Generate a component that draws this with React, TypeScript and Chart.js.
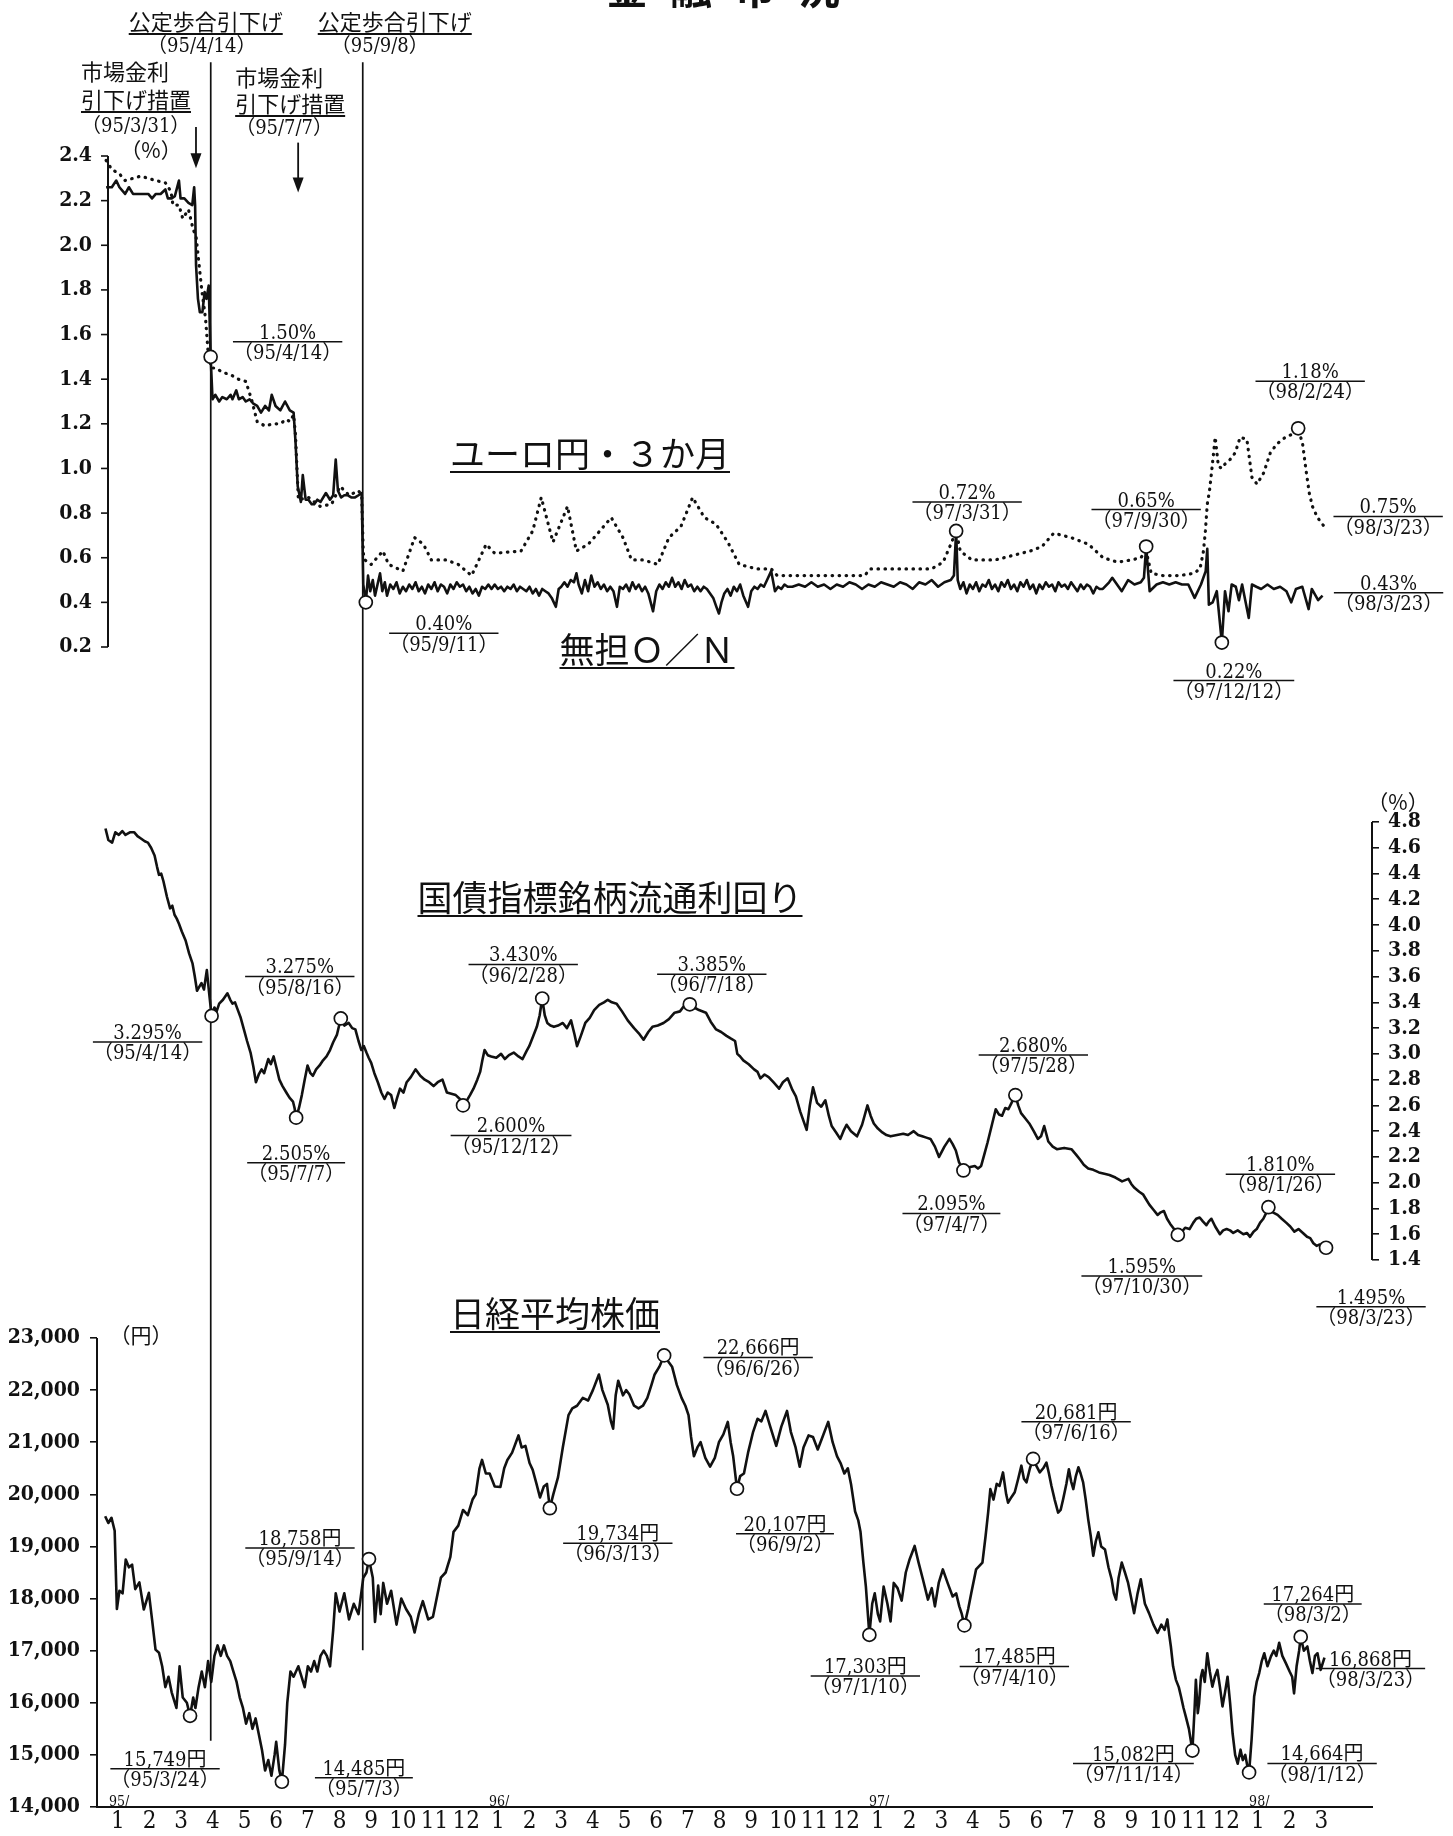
import { useEffect, useRef } from 'react';
import { Chart, registerables } from 'chart.js';

Chart.register(...registerables);

// ---------------- data (x = months since 1995/1/1) ----------------
const MONTH_LABELS = ['1','2','3','4','5','6','7','8','9','10','11','12','1','2','3','4','5','6','7','8','9','10','11','12','1','2','3','4','5','6','7','8','9','10','11','12','1','2','3'];
const YEAR_LABELS = ['95/', '96/', '97/', '98/'];
const YEAR_START_MONTHS = [0, 12, 24, 36];

const RATE_TICKS = [0.2, 0.4, 0.6, 0.8, 1.0, 1.2, 1.4, 1.6, 1.8, 2.0, 2.2, 2.4];
const JGB_TICKS = [1.4, 1.6, 1.8, 2.0, 2.2, 2.4, 2.6, 2.8, 3.0, 3.2, 3.4, 3.6, 3.8, 4.0, 4.2, 4.4, 4.6, 4.8];
const NIKKEI_TICKS = [14000, 15000, 16000, 17000, 18000, 19000, 20000, 21000, 22000, 23000];

// 無担O/N (solid)
const onSeries = [
[0.13,2.26],[0.31,2.26],[0.45,2.29],[0.55,2.26],[0.73,2.23],[0.85,2.26],[0.98,2.23],[1.2,2.23],[1.46,2.23],[1.58,2.21],[1.7,2.23],[1.85,2.23],[2.0,2.25],[2.08,2.21],[2.2,2.21],[2.3,2.22],[2.43,2.29],[2.48,2.21],[2.6,2.21],[2.73,2.19],[2.85,2.18],[2.91,2.26],[2.94,2.18],[2.97,1.91],[3.03,1.76],[3.09,1.7],[3.17,1.7],[3.24,1.79],[3.3,1.76],[3.37,1.82],[3.43,1.5],[3.49,1.31],[3.58,1.33],[3.7,1.3],[3.8,1.32],[3.94,1.31],[4.06,1.33],[4.12,1.31],[4.24,1.35],[4.32,1.31],[4.44,1.32],[4.54,1.3],[4.66,1.31],[4.78,1.29],[4.9,1.28],[5.02,1.25],[5.15,1.28],[5.27,1.26],[5.36,1.33],[5.48,1.28],[5.63,1.26],[5.78,1.3],[5.93,1.26],[6.05,1.25],[6.11,1.12],[6.18,0.92],
[6.28,0.85],[6.34,0.97],[6.43,0.86],[6.52,0.86],[6.62,0.84],[6.7,0.84],[6.8,0.86],[6.9,0.85],[7.07,0.89],[7.2,0.86],[7.3,0.88],[7.38,1.04],[7.45,0.9],[7.55,0.87],[7.65,0.88],[7.75,0.88],[7.87,0.87],[7.99,0.87],[8.1,0.88],[8.2,0.89],[8.25,0.48],[8.33,0.4],[8.4,0.52],[8.47,0.45],[8.55,0.5],[8.62,0.43],[8.7,0.48],[8.78,0.53],[8.85,0.45],[8.93,0.49],[9.0,0.43],[9.1,0.48],[9.2,0.46],[9.3,0.49],[9.4,0.44],[9.5,0.47],[9.6,0.45],[9.7,0.48],[9.8,0.46],[9.9,0.49],[10.0,0.45],[10.1,0.47],[10.2,0.44],[10.3,0.48],[10.4,0.46],[10.5,0.49],[10.6,0.45],[10.7,0.48],[10.8,0.47],[10.9,0.44],[11.0,0.48],[11.1,0.46],[11.2,0.49],[11.3,0.47],[11.4,0.48],[11.5,0.45],[11.6,0.47],[11.7,0.44],[11.8,0.46],[11.9,0.43],[12.0,0.47],[12.1,0.46],[12.2,0.48],[12.3,0.46],[12.4,0.48],[12.5,0.46],[12.6,0.47],[12.7,0.45],[12.8,0.47],[12.9,0.46],[13.0,0.48],[13.1,0.45],[13.2,0.47],[13.3,0.46],[13.4,0.45],[13.5,0.47],[13.6,0.44],[13.7,0.46],[13.8,0.43],[13.9,0.46],[14.0,0.45],[14.1,0.44],[14.2,0.42],[14.33,0.38],[14.42,0.46],[14.5,0.47],[14.6,0.49],[14.7,0.47],[14.8,0.5],[14.9,0.49],[14.98,0.53],[15.05,0.48],[15.15,0.44],[15.25,0.5],[15.35,0.45],[15.45,0.52],[15.55,0.47],[15.65,0.49],[15.75,0.46],[15.85,0.48],[15.95,0.45],[16.05,0.47],[16.15,0.45],[16.26,0.38],[16.35,0.47],[16.45,0.46],[16.55,0.48],[16.65,0.45],[16.75,0.49],[16.85,0.46],[16.95,0.48],[17.05,0.45],[17.15,0.47],[17.25,0.44],[17.4,0.36],[17.5,0.45],[17.6,0.48],[17.7,0.46],[17.8,0.49],[17.9,0.47],[18.0,0.51],[18.1,0.47],[18.2,0.49],[18.3,0.46],[18.4,0.5],[18.5,0.47],[18.6,0.48],[18.7,0.45],[18.8,0.47],[18.9,0.45],[19.0,0.47],[19.1,0.46],[19.2,0.44],[19.3,0.42],[19.4,0.38],[19.48,0.35],[19.56,0.4],[19.65,0.44],[19.75,0.46],[19.85,0.43],[19.95,0.47],[20.05,0.45],[20.15,0.48],[20.25,0.43],[20.4,0.38],[20.5,0.45],[20.6,0.47],[20.7,0.46],[20.8,0.48],[20.9,0.47],[21.0,0.5],[21.13,0.54],[21.25,0.45],[21.35,0.47],[21.45,0.46],[21.55,0.48],[21.65,0.47],[21.8,0.47],[22.0,0.48],[22.2,0.47],[22.4,0.49],[22.6,0.47],[22.8,0.48],[23.0,0.46],[23.2,0.48],[23.4,0.47],[23.6,0.49],[23.8,0.48],[24.0,0.46],[24.2,0.48],[24.4,0.47],[24.6,0.49],[24.8,0.48],[25.0,0.47],[25.2,0.49],[25.4,0.48],[25.6,0.46],[25.8,0.49],[26.0,0.48],[26.2,0.5],[26.4,0.47],[26.6,0.49],[26.8,0.5],[26.9,0.52],[26.97,0.72],[27.02,0.5],[27.1,0.46],[27.2,0.49],[27.3,0.44],[27.4,0.48],[27.5,0.46],[27.6,0.49],[27.7,0.45],[27.8,0.48],[27.9,0.47],[28.0,0.5],[28.1,0.46],[28.2,0.48],[28.3,0.45],[28.4,0.49],[28.5,0.47],[28.6,0.5],[28.7,0.46],[28.8,0.48],[28.9,0.45],[29.0,0.49],[29.1,0.47],[29.2,0.5],[29.3,0.46],[29.4,0.48],[29.5,0.44],[29.6,0.48],[29.7,0.46],[29.8,0.49],[29.9,0.47],[30.0,0.48],[30.1,0.45],[30.2,0.49],[30.3,0.47],[30.4,0.48],[30.5,0.46],[30.6,0.49],[30.7,0.47],[30.8,0.45],[30.9,0.48],[31.0,0.46],[31.1,0.48],[31.2,0.47],[31.3,0.44],[31.4,0.47],[31.5,0.46],[31.6,0.46],[31.8,0.49],[31.9,0.51],[32.05,0.48],[32.2,0.45],[32.4,0.5],[32.6,0.48],[32.8,0.49],[32.9,0.51],[32.97,0.65],[33.08,0.45],[33.3,0.48],[33.5,0.49],[33.7,0.48],[33.9,0.49],[34.1,0.48],[34.3,0.48],[34.5,0.42],[34.7,0.48],[34.85,0.54],[34.9,0.64],[34.95,0.39],[35.07,0.4],[35.2,0.45],[35.36,0.22],[35.46,0.45],[35.57,0.36],[35.67,0.48],[35.8,0.47],[35.9,0.41],[36.0,0.48],[36.21,0.33],[36.31,0.48],[36.45,0.47],[36.6,0.46],[36.8,0.48],[37.0,0.46],[37.2,0.47],[37.4,0.45],[37.55,0.4],[37.7,0.46],[37.9,0.47],[38.1,0.37],[38.2,0.46],[38.4,0.41],[38.54,0.43]
];

// ユーロ円・3か月 (dotted)
const euroyenSeries = [
[0.13,2.38],[0.31,2.34],[0.55,2.32],[0.73,2.29],[0.98,2.3],[1.22,2.31],[1.46,2.3],[1.7,2.29],[2.0,2.28],[2.18,2.24],[2.24,2.18],[2.43,2.18],[2.55,2.12],[2.73,2.16],[2.88,2.07],[2.97,2.04],[3.15,1.8],[3.27,1.67],[3.35,1.52],[3.45,1.45],[3.58,1.45],[3.82,1.43],[4.06,1.42],[4.3,1.4],[4.54,1.39],[4.72,1.31],[4.9,1.21],[5.15,1.19],[5.39,1.2],[5.63,1.2],[5.82,1.22],[5.93,1.21],[6.05,1.24],[6.11,1.15],[6.2,0.86],[6.52,0.87],[6.89,0.83],[7.25,0.84],[7.52,0.92],[7.8,0.88],[8.1,0.9],[8.2,0.88],[8.25,0.62],[8.3,0.59],[8.5,0.57],[8.87,0.63],[9.05,0.57],[9.5,0.54],[9.87,0.69],[10.15,0.66],[10.4,0.59],[10.87,0.59],[11.25,0.57],[11.67,0.52],[12.13,0.66],[12.4,0.62],[13.23,0.63],[13.6,0.72],[13.87,0.87],[14.24,0.67],[14.7,0.83],[14.98,0.63],[15.35,0.66],[15.72,0.72],[16.08,0.78],[16.45,0.69],[16.72,0.59],[17.1,0.59],[17.55,0.57],[17.9,0.69],[18.28,0.74],[18.65,0.87],[19.02,0.78],[19.39,0.75],[19.76,0.67],[20.12,0.57],[20.67,0.55],[21.13,0.55],[21.32,0.52],[22.7,0.52],[24.08,0.52],[24.26,0.55],[26.19,0.55],[26.56,0.58],[26.83,0.67],[26.97,0.72],[27.1,0.63],[27.47,0.59],[28.2,0.59],[28.75,0.61],[29.31,0.63],[29.68,0.65],[30.05,0.71],[30.6,0.69],[31.15,0.66],[31.61,0.6],[32.07,0.58],[32.5,0.59],[32.8,0.6],[32.97,0.63],[33.13,0.53],[33.5,0.52],[34.04,0.52],[34.47,0.53],[34.67,0.55],[34.78,0.63],[34.84,0.72],[34.9,0.84],[34.97,0.9],[35.04,0.99],[35.15,1.14],[35.25,1.01],[35.36,1.0],[35.46,1.02],[35.62,1.04],[35.78,1.07],[35.94,1.14],[36.15,1.13],[36.31,0.96],[36.47,0.93],[36.68,0.98],[36.89,1.07],[37.1,1.11],[37.37,1.14],[37.69,1.16],[37.77,1.18],[37.91,1.11],[38.01,1.0],[38.12,0.89],[38.22,0.83],[38.38,0.78],[38.59,0.74]
];

// 国債指標銘柄流通利回り
const jgbSeries = [
[0.11,4.75],[0.2,4.66],[0.32,4.64],[0.42,4.72],[0.53,4.7],[0.64,4.73],[0.74,4.7],[0.88,4.72],[1.02,4.72],[1.12,4.69],[1.24,4.67],[1.35,4.65],[1.45,4.64],[1.55,4.6],[1.66,4.54],[1.74,4.45],[1.8,4.39],[1.87,4.4],[1.94,4.34],[2.05,4.22],[2.15,4.13],[2.22,4.15],[2.29,4.08],[2.36,4.05],[2.43,4.01],[2.52,3.95],[2.64,3.88],[2.75,3.78],[2.86,3.7],[2.93,3.6],[3.0,3.49],[3.07,3.52],[3.14,3.55],[3.22,3.5],[3.31,3.65],[3.38,3.48],[3.46,3.295],[3.55,3.36],[3.62,3.33],[3.7,3.39],[3.82,3.42],[3.96,3.47],[4.05,3.42],[4.12,3.39],[4.2,3.4],[4.29,3.34],[4.38,3.28],[4.48,3.19],[4.58,3.1],[4.69,3.01],[4.78,2.9],[4.86,2.78],[4.95,2.84],[5.04,2.88],[5.12,2.85],[5.25,2.96],[5.33,2.92],[5.42,2.98],[5.5,2.9],[5.6,2.8],[5.7,2.75],[5.82,2.7],[5.92,2.66],[6.03,2.63],[6.08,2.58],[6.13,2.505],[6.22,2.58],[6.31,2.68],[6.4,2.8],[6.49,2.91],[6.58,2.85],[6.66,2.83],[6.76,2.88],[6.87,2.91],[6.98,2.95],[7.09,2.98],[7.2,3.03],[7.3,3.09],[7.42,3.15],[7.54,3.275],[7.65,3.22],[7.79,3.24],[7.9,3.2],[8.0,3.19],[8.1,3.1],[8.19,3.03],[8.27,3.06],[8.35,3.01],[8.42,2.97],[8.5,2.93],[8.6,2.85],[8.71,2.78],[8.82,2.7],[8.92,2.65],[9.02,2.7],[9.13,2.68],[9.23,2.58],[9.32,2.66],[9.41,2.73],[9.52,2.7],[9.62,2.78],[9.75,2.82],[9.9,2.88],[10.05,2.83],[10.19,2.8],[10.33,2.78],[10.47,2.75],[10.6,2.78],[10.75,2.8],[10.89,2.7],[11.03,2.69],[11.17,2.68],[11.3,2.65],[11.4,2.6],[11.5,2.63],[11.62,2.68],[11.73,2.73],[11.85,2.8],[11.94,2.86],[12.01,2.95],[12.08,3.03],[12.18,2.99],[12.29,2.98],[12.45,2.97],[12.6,3.0],[12.72,2.96],[12.85,2.99],[13.0,3.01],[13.15,2.98],[13.28,2.96],[13.4,3.02],[13.49,3.06],[13.62,3.14],[13.73,3.21],[13.82,3.3],[13.9,3.43],[13.98,3.3],[14.06,3.24],[14.16,3.22],[14.27,3.21],[14.4,3.22],[14.55,3.24],[14.68,3.2],[14.81,3.26],[14.92,3.15],[15.0,3.06],[15.12,3.14],[15.26,3.24],[15.4,3.28],[15.54,3.34],[15.7,3.38],[15.85,3.4],[15.97,3.42],[16.1,3.4],[16.25,3.39],[16.42,3.33],[16.6,3.26],[16.8,3.2],[16.95,3.16],[17.1,3.11],[17.25,3.17],[17.38,3.21],[17.55,3.22],[17.73,3.24],[17.9,3.27],[18.08,3.32],[18.25,3.33],[18.37,3.37],[18.47,3.36],[18.56,3.385],[18.7,3.36],[18.85,3.34],[19.07,3.32],[19.22,3.25],[19.39,3.19],[19.55,3.17],[19.72,3.14],[19.85,3.12],[19.99,3.1],[20.06,3.0],[20.15,2.98],[20.25,2.95],[20.42,2.92],[20.59,2.88],[20.7,2.86],[20.79,2.81],[20.92,2.84],[21.05,2.82],[21.2,2.78],[21.38,2.73],[21.5,2.78],[21.65,2.81],[21.8,2.72],[21.91,2.67],[22.05,2.55],[22.25,2.41],[22.35,2.6],[22.45,2.74],[22.58,2.62],[22.71,2.59],[22.84,2.64],[22.95,2.52],[23.04,2.44],[23.18,2.39],[23.31,2.34],[23.41,2.4],[23.51,2.45],[23.65,2.4],[23.84,2.36],[24.0,2.45],[24.17,2.6],[24.27,2.52],[24.37,2.46],[24.5,2.42],[24.64,2.39],[24.77,2.37],[24.9,2.36],[25.1,2.37],[25.3,2.38],[25.45,2.37],[25.63,2.4],[25.77,2.37],[25.9,2.36],[26.03,2.35],[26.16,2.34],[26.3,2.28],[26.43,2.2],[26.6,2.28],[26.76,2.34],[26.86,2.3],[26.96,2.25],[27.06,2.16],[27.2,2.095],[27.38,2.12],[27.56,2.13],[27.66,2.11],[27.76,2.13],[27.86,2.22],[27.96,2.31],[28.1,2.45],[28.22,2.57],[28.32,2.53],[28.42,2.52],[28.52,2.58],[28.62,2.57],[28.72,2.62],[28.84,2.68],[28.93,2.6],[29.02,2.54],[29.15,2.5],[29.28,2.46],[29.42,2.4],[29.55,2.34],[29.65,2.36],[29.75,2.44],[29.88,2.32],[30.02,2.28],[30.15,2.26],[30.38,2.27],[30.61,2.26],[30.75,2.22],[30.88,2.18],[31.0,2.14],[31.14,2.11],[31.3,2.1],[31.48,2.08],[31.65,2.07],[31.81,2.06],[32.0,2.04],[32.21,2.01],[32.41,2.03],[32.5,1.99],[32.6,1.96],[32.75,1.93],[32.87,1.91],[32.97,1.87],[33.07,1.83],[33.2,1.79],[33.33,1.75],[33.43,1.77],[33.53,1.78],[33.63,1.72],[33.73,1.68],[33.85,1.64],[33.97,1.595],[34.1,1.62],[34.2,1.65],[34.34,1.64],[34.46,1.69],[34.55,1.72],[34.66,1.73],[34.76,1.7],[34.87,1.67],[34.95,1.7],[35.03,1.72],[35.15,1.66],[35.3,1.6],[35.4,1.63],[35.51,1.64],[35.62,1.63],[35.72,1.61],[35.86,1.63],[36.04,1.6],[36.15,1.61],[36.25,1.58],[36.36,1.62],[36.46,1.64],[36.57,1.69],[36.67,1.72],[36.77,1.77],[36.83,1.81],[36.97,1.77],[37.12,1.75],[37.25,1.72],[37.39,1.69],[37.52,1.66],[37.65,1.62],[37.78,1.64],[37.92,1.61],[38.05,1.58],[38.15,1.57],[38.25,1.53],[38.35,1.51],[38.45,1.52],[38.55,1.5],[38.65,1.495]
];

// 日経平均株価
const nikkeiSeries = [
[0.1,19580],[0.2,19450],[0.3,19550],[0.4,19300],[0.47,17800],[0.55,18150],[0.65,18100],[0.75,18750],[0.85,18600],[0.95,18650],[1.05,18180],[1.18,18310],[1.32,17790],[1.48,18110],[1.58,17600],[1.69,17020],[1.8,16960],[1.9,16700],[2.0,16300],[2.1,16500],[2.2,16200],[2.35,15900],[2.45,16700],[2.55,16100],[2.68,16000],[2.78,15749],[2.88,16100],[2.95,15900],[3.05,16300],[3.15,16600],[3.25,16300],[3.35,16800],[3.45,16400],[3.55,16900],[3.65,17100],[3.75,16900],[3.85,17100],[3.95,16900],[4.05,16800],[4.15,16600],[4.25,16400],[4.35,16100],[4.45,15900],[4.55,15600],[4.65,15800],[4.75,15500],[4.85,15700],[4.95,15400],[5.05,15100],[5.15,14700],[5.25,14900],[5.35,14600],[5.45,15000],[5.5,15250],[5.6,14700],[5.68,14485],[5.78,15200],[5.85,16000],[5.95,16600],[6.05,16500],[6.2,16700],[6.3,16500],[6.4,16300],[6.5,16700],[6.6,16600],[6.7,16800],[6.8,16600],[6.9,16900],[7.0,17000],[7.1,16900],[7.2,16700],[7.3,17400],[7.38,18100],[7.5,17750],[7.65,18100],[7.8,17600],[7.95,17900],[8.1,17700],[8.25,18400],[8.35,18500],[8.43,18758],[8.55,18400],[8.62,17550],[8.72,18250],[8.8,17700],[8.88,18300],[9.0,17900],[9.13,18150],[9.3,17500],[9.45,18000],[9.6,17800],[9.75,17650],[9.87,17350],[10.0,17700],[10.13,17950],[10.3,17600],[10.45,17650],[10.6,18100],[10.7,18400],[10.85,18500],[11.0,18800],[11.1,19280],[11.25,19400],[11.4,19700],[11.55,19600],[11.7,19900],[11.8,20000],[11.92,20500],[12.0,20660],[12.12,20400],[12.24,20400],[12.4,20150],[12.58,20140],[12.7,20500],[12.8,20660],[12.95,20800],[13.15,21130],[13.25,20900],[13.37,20930],[13.5,20600],[13.6,20470],[13.72,20200],[13.83,19940],[13.95,20150],[14.05,20200],[14.14,19734],[14.25,20000],[14.4,20330],[14.55,20900],[14.73,21520],[14.85,21650],[15.0,21700],[15.18,21850],[15.35,21800],[15.5,22000],[15.69,22300],[15.8,22000],[15.97,21720],[16.07,21400],[16.14,21260],[16.22,21900],[16.3,22180],[16.45,21900],[16.55,22000],[16.65,21920],[16.8,21700],[16.94,21650],[17.08,21700],[17.22,21850],[17.35,22100],[17.45,22300],[17.6,22450],[17.75,22666],[17.88,22550],[18.0,22450],[18.15,22100],[18.3,21850],[18.42,21700],[18.52,21520],[18.6,21100],[18.69,20730],[18.8,20900],[18.9,21000],[19.05,20700],[19.2,20530],[19.35,20700],[19.48,21000],[19.62,21150],[19.76,21390],[19.85,21000],[19.93,20730],[20.05,20107],[20.15,20350],[20.27,20400],[20.4,20800],[20.56,21200],[20.7,21450],[20.82,21400],[20.95,21600],[21.1,21300],[21.29,20930],[21.45,21300],[21.63,21600],[21.75,21200],[21.9,20900],[22.03,20530],[22.15,20900],[22.31,21130],[22.45,21100],[22.6,20860],[22.75,21100],[22.93,21390],[23.07,21000],[23.21,20730],[23.32,20600],[23.44,20400],[23.55,20500],[23.65,20200],[23.78,19670],[23.88,19500],[23.95,19280],[24.04,18700],[24.12,18230],[24.23,17303],[24.32,17900],[24.4,18100],[24.5,17700],[24.57,17560],[24.68,18230],[24.8,17900],[24.9,17560],[25.0,18300],[25.12,18200],[25.25,17960],[25.38,18500],[25.5,18750],[25.66,19010],[25.78,18700],[25.92,18370],[26.08,17980],[26.2,18200],[26.3,17850],[26.42,18300],[26.55,18560],[26.7,18300],[26.86,18040],[26.97,18100],[27.07,17850],[27.15,17700],[27.23,17485],[27.35,17800],[27.45,18110],[27.6,18560],[27.8,18690],[27.9,19200],[27.98,19650],[28.05,20100],[28.15,19900],[28.25,20200],[28.34,20160],[28.45,20420],[28.55,20000],[28.61,19840],[28.72,19950],[28.82,20040],[28.93,20300],[29.03,20550],[29.11,20300],[29.19,20230],[29.3,20500],[29.4,20681],[29.5,20550],[29.61,20420],[29.72,20500],[29.82,20610],[29.9,20400],[29.98,20160],[30.08,19900],[30.19,19650],[30.27,19700],[30.35,19910],[30.45,20200],[30.53,20480],[30.6,20250],[30.67,20100],[30.75,20350],[30.83,20520],[30.9,20400],[30.98,20230],[31.06,19900],[31.14,19520],[31.22,19200],[31.3,18820],[31.38,19100],[31.46,19270],[31.55,19000],[31.67,18940],[31.78,18600],[31.88,18370],[31.95,18100],[32.02,17980],[32.1,18400],[32.2,18690],[32.3,18500],[32.4,18300],[32.5,18000],[32.59,17720],[32.7,18100],[32.8,18370],[32.93,17900],[33.06,17720],[33.2,17500],[33.33,17340],[33.45,17500],[33.55,17400],[33.64,17600],[33.7,17300],[33.75,17080],[33.82,16700],[33.91,16440],[34.0,16300],[34.07,16120],[34.15,15900],[34.22,15740],[34.32,15500],[34.43,15082],[34.5,15900],[34.54,16440],[34.6,15800],[34.64,15990],[34.7,16500],[34.75,16630],[34.82,16400],[34.9,16950],[34.98,16600],[35.06,16310],[35.14,16500],[35.22,16630],[35.3,16300],[35.38,15930],[35.46,16200],[35.54,16500],[35.62,16000],[35.7,15410],[35.78,15000],[35.86,14830],[35.95,15100],[36.02,14900],[36.1,15000],[36.16,14800],[36.22,14664],[36.3,15300],[36.38,16120],[36.46,16400],[36.54,16570],[36.62,16800],[36.7,16950],[36.8,16700],[36.91,16890],[37.0,17000],[37.08,16900],[37.17,17150],[37.27,16900],[37.38,16760],[37.5,16600],[37.58,16500],[37.64,16180],[37.72,16700],[37.8,17000],[37.85,17264],[37.95,17000],[38.06,17080],[38.14,16800],[38.22,16570],[38.3,16900],[38.38,16950],[38.48,16630],[38.6,16868]
];

// marked points (circles) with their captions
const rateNotePoints = [[3.43,1.5],[8.33,0.4],[26.97,0.72],[32.97,0.65],[35.36,0.22],[37.77,1.18]];
const rateNoteValues = ['1.50%','0.40%','0.72%','0.65%','0.22%','1.18%'];
const rateNoteDates = ['（95/4/14）','（95/9/11）','（97/3/31）','（97/9/30）','（97/12/12）','（98/2/24）'];
const rateEndValues = ['0.75%','0.43%'];
const rateEndDates = ['（98/3/23）','（98/3/23）'];

const jgbNotePoints = [[3.46,3.295],[7.54,3.275],[6.13,2.505],[11.4,2.6],[13.9,3.43],[18.56,3.385],[27.2,2.095],[28.84,2.68],[33.97,1.595],[36.83,1.81],[38.65,1.495]];
const jgbNoteValues = ['3.295%','3.275%','2.505%','2.600%','3.430%','3.385%','2.095%','2.680%','1.595%','1.810%','1.495%'];
const jgbNoteDates = ['（95/4/14）','（95/8/16）','（95/7/7）','（95/12/12）','（96/2/28）','（96/7/18）','（97/4/7）','（97/5/28）','（97/10/30）','（98/1/26）','（98/3/23）'];

const nikkeiNotePoints = [[2.78,15749],[5.68,14485],[8.43,18758],[14.14,19734],[17.75,22666],[20.05,20107],[24.23,17303],[27.23,17485],[29.4,20681],[34.43,15082],[36.22,14664],[37.85,17264]];
const nikkeiNoteValues = ['15,749円','14,485円','18,758円','19,734円','22,666円','20,107円','17,303円','17,485円','20,681円','15,082円','14,664円','17,264円'];
const nikkeiNoteDates = ['（95/3/24）','（95/7/3）','（95/9/14）','（96/3/13）','（96/6/26）','（96/9/2）','（97/1/10）','（97/4/10）','（97/6/16）','（97/11/14）','（98/1/12）','（98/3/2）'];
const nikkeiEndValue = '16,868円';
const nikkeiEndDate = '（98/3/23）';

// policy events
const EVENT_DATES = ['95/4/14', '95/9/8'];
const EVENT_TITLES = ['公定歩合引下げ', '公定歩合引下げ'];
const EVENT_DATE_TEXTS = ['（95/4/14）', '（95/9/8）'];
const MEASURE_DATES = ['95/3/31', '95/7/7'];
const MEASURE_TEXTS = [['市場金利', '引下げ措置', '（95/3/31）'], ['市場金利', '引下げ措置', '（95/7/7）']];

const TITLE_CHARS = ['金', '融', '市', '況'];
const PANEL_TITLES = ['ユーロ円・３か月', '無担Ｏ／Ｎ', '国債指標銘柄流通利回り', '日経平均株価'];

// ---------------- layout / style ----------------
const W = 1453, H = 1836;
const PLOT_TOP = 60, PLOT_BOTTOM = 1807, PLOT_LEFT = 97, PLOT_RIGHT = 1372;
const X0_PX = 102, MONTH_PX = 31.67;
const X_MIN = (PLOT_LEFT - X0_PX) / MONTH_PX;
const X_MAX = (PLOT_RIGHT - X0_PX) / MONTH_PX;
function span(vTop: number, pTop: number, vBot: number, pBot: number) {
  const k = (vTop - vBot) / (pBot - pTop);
  return { max: vTop + (pTop - PLOT_TOP) * k, min: vBot - (PLOT_BOTTOM - pBot) * k };
}
const RATE_RANGE = span(2.4, 156, 0.2, 647);
const JGB_RANGE = span(4.8, 822, 1.4, 1260);
const NK_RANGE = span(23000, 1338, 14000, 1807);
const RATE_AXIS_SHIFT = 11; // the short-rate axis sits a little right of the stock axis

const INK = '#111';
const NUM_FAMILY = '"DejaVu Serif Condensed", "Liberation Serif", "Noto Sans CJK JP", serif';
const JP_FAMILY = '"Noto Sans CJK JP", "Noto Sans", sans-serif';
const NOTE_FONT = `20px ${NUM_FAMILY}`;
const TICK_FONT = `bold 21px ${NUM_FAMILY}`;
const LINE_W = 2.6;

const RATE_NOTE_OFFSETS = [[77,-15],[78,31],[11,-29],[0,-37],[12,38],[12,-47]];
const RATE_END_OFFSETS = [[64,-10],[66,-3]];
const JGB_NOTE_OFFSETS = [[-64,26],[-41,-42],[0,45],[48,30],[-19,-34],[22,-30],[-12,43],[18,-40],[-36,41],[12,-33],[45,59]];
const NIKKEI_NOTE_OFFSETS = [[-25,53],[82,-4],[-69,-11],[68,35],[94,2],[48,45],[-4,41],[50,41],[43,-37],[-59,13],[73,-9],[12,-33]];
const NIKKEI_END_OFFSET = [46, 11];

const EVENT_LINE_TOP_RATE = 2.82;
const EVENT_LINE_BOTTOM_NIKKEI = [15270, 17010];
const EVENT_TITLE_DX = [-5, 32];
const EVENT_DATE_DX = [-9, 17];
const EVENT_TITLE_Y = 22, EVENT_DATE_Y = 47;
const MEASURE_TEXT_DX = [-115, -63];
const MEASURE_TEXT_Y = [[72, 100, 127], [78, 104, 129]];
const MEASURE_ARROW_RATE = [[2.53, 2.345], [2.46, 2.237]];
const TITLE_X = [627, 691, 755, 819];
const PANEL_TITLE_POS = [[590, 454], [647, 650], [610, 898], [555, 1314]];

function dateToMonth(s: string) {
  const [yy, mm, dd] = s.split('/').map(Number);
  const year = 1900 + yy;
  const dim = new Date(year, mm, 0).getDate();
  return (year - 1995) * 12 + (mm - 1) + (dd - 1) / dim;
}

function seg(ctx: any, x1: number, y1: number, x2: number, y2: number) {
  ctx.beginPath(); ctx.moveTo(x1, y1); ctx.lineTo(x2, y2); ctx.stroke();
}

function underlined(ctx: any, text: string, cx: number, cy: number, font: string, gap: number) {
  ctx.font = font;
  ctx.textAlign = 'center';
  ctx.textBaseline = 'middle';
  ctx.fillText(text, cx, cy);
  const w = ctx.measureText(text).width;
  ctx.lineWidth = 1.8;
  seg(ctx, cx - w / 2, cy + gap, cx + w / 2, cy + gap);
}

function noteLabel(ctx: any, x: number, y: number, value: string, date: string) {
  ctx.font = NOTE_FONT;
  const w = Math.max(ctx.measureText(value).width, ctx.measureText(date).width);
  ctx.textAlign = 'center';
  ctx.textBaseline = 'alphabetic';
  ctx.fillText(value, x, y - 3);
  ctx.textBaseline = 'top';
  ctx.fillText(date, x, y + 2);
  ctx.lineWidth = 1.5;
  seg(ctx, x - w / 2, y, x + w / 2, y);
}

const decorations = {
  id: 'decorations',
  beforeDatasetsDraw(chart: any) {
    const ctx = chart.ctx;
    const s = chart.scales;
    ctx.save();
    ctx.strokeStyle = INK;
    ctx.fillStyle = INK;
    // short-rate axis: spine, tick marks and labels
    const rx = s.yRate.right + RATE_AXIS_SHIFT;
    ctx.lineWidth = 2;
    seg(ctx, rx, s.yRate.getPixelForValue(RATE_TICKS[RATE_TICKS.length - 1]), rx, s.yRate.getPixelForValue(RATE_TICKS[0]));
    ctx.lineWidth = 1.6;
    ctx.font = TICK_FONT;
    ctx.textAlign = 'right';
    ctx.textBaseline = 'middle';
    RATE_TICKS.forEach((v) => {
      const y = s.yRate.getPixelForValue(v);
      seg(ctx, rx - 7, y, rx, y);
      ctx.fillText(v.toFixed(1), rx - 16, y);
    });
    // other spines limited to each panel's range
    ctx.lineWidth = 2;
    seg(ctx, s.yNk.right, s.yNk.getPixelForValue(NIKKEI_TICKS[NIKKEI_TICKS.length - 1]), s.yNk.right, s.yNk.getPixelForValue(NIKKEI_TICKS[0]));
    seg(ctx, s.yJgb.left, s.yJgb.getPixelForValue(JGB_TICKS[JGB_TICKS.length - 1]), s.yJgb.left, s.yJgb.getPixelForValue(JGB_TICKS[0]));
    // policy event lines
    ctx.lineWidth = 1.7;
    EVENT_DATES.forEach((d, i) => {
      const x = s.x.getPixelForValue(dateToMonth(d));
      seg(ctx, x, s.yRate.getPixelForValue(EVENT_LINE_TOP_RATE), x, s.yNk.getPixelForValue(EVENT_LINE_BOTTOM_NIKKEI[i]));
    });
    ctx.restore();
  },
  afterDatasetsDraw(chart: any) {
    const ctx = chart.ctx;
    const s = chart.scales;
    ctx.save();
    ctx.strokeStyle = INK;
    ctx.fillStyle = INK;

    // page title (cut off at the top edge)
    ctx.font = `bold 42px ${JP_FAMILY}`;
    ctx.textAlign = 'center';
    ctx.textBaseline = 'bottom';
    TITLE_CHARS.forEach((c, i) => ctx.fillText(c, TITLE_X[i], 9));

    // policy event captions
    EVENT_DATES.forEach((d, i) => {
      const x = s.x.getPixelForValue(dateToMonth(d));
      underlined(ctx, EVENT_TITLES[i], x + EVENT_TITLE_DX[i], EVENT_TITLE_Y, `22px ${JP_FAMILY}`, 12);
      ctx.font = `20px ${NUM_FAMILY}`;
      ctx.textAlign = 'center';
      ctx.textBaseline = 'middle';
      ctx.fillText(EVENT_DATE_TEXTS[i], x + EVENT_DATE_DX[i], EVENT_DATE_Y);
    });

    // market-rate measures with arrows
    MEASURE_DATES.forEach((d, i) => {
      const x = s.x.getPixelForValue(dateToMonth(d));
      const left = x + MEASURE_TEXT_DX[i];
      const [t1, t2, t3] = MEASURE_TEXTS[i];
      const [y1, y2, y3] = MEASURE_TEXT_Y[i];
      ctx.textAlign = 'left';
      ctx.textBaseline = 'middle';
      ctx.font = `22px ${JP_FAMILY}`;
      ctx.fillText(t1, left, y1);
      ctx.fillText(t2, left, y2);
      const w2 = ctx.measureText(t2).width;
      ctx.lineWidth = 1.8;
      seg(ctx, left, y2 + 12, left + w2, y2 + 12);
      ctx.font = `20px ${NUM_FAMILY}`;
      ctx.fillText(t3, left, y3);
      const ya = s.yRate.getPixelForValue(MEASURE_ARROW_RATE[i][0]);
      const yb = s.yRate.getPixelForValue(MEASURE_ARROW_RATE[i][1]);
      ctx.lineWidth = 1.8;
      seg(ctx, x, ya, x, yb - 12);
      ctx.beginPath();
      ctx.moveTo(x - 5.5, yb - 15);
      ctx.lineTo(x + 5.5, yb - 15);
      ctx.lineTo(x, yb);
      ctx.closePath();
      ctx.fill();
    });

    // unit labels
    ctx.font = `21px ${JP_FAMILY}`;
    ctx.textAlign = 'center';
    ctx.textBaseline = 'middle';
    ctx.fillText('（%）', s.yRate.right + 54, s.yRate.getPixelForValue(2.4) - 6);
    ctx.fillText('（%）', s.yJgb.left + 26, s.yJgb.getPixelForValue(4.8) - 20);
    ctx.fillText('（円）', s.yNk.right + 44, s.yNk.getPixelForValue(23000) - 3);

    // panel titles
    PANEL_TITLES.forEach((t, i) => {
      underlined(ctx, t, PANEL_TITLE_POS[i][0], PANEL_TITLE_POS[i][1], `35px ${JP_FAMILY}`, 18);
    });

    // point captions
    const px = (m: number) => s.x.getPixelForValue(m);
    rateNotePoints.forEach(([m, v], i) => noteLabel(ctx, px(m) + RATE_NOTE_OFFSETS[i][0], s.yRate.getPixelForValue(v) + RATE_NOTE_OFFSETS[i][1], rateNoteValues[i], rateNoteDates[i]));
    const eyEnd = euroyenSeries[euroyenSeries.length - 1];
    const onEnd = onSeries[onSeries.length - 1];
    [eyEnd, onEnd].forEach(([m, v], i) => noteLabel(ctx, px(m) + RATE_END_OFFSETS[i][0], s.yRate.getPixelForValue(v) + RATE_END_OFFSETS[i][1], rateEndValues[i], rateEndDates[i]));
    jgbNotePoints.forEach(([m, v], i) => noteLabel(ctx, px(m) + JGB_NOTE_OFFSETS[i][0], s.yJgb.getPixelForValue(v) + JGB_NOTE_OFFSETS[i][1], jgbNoteValues[i], jgbNoteDates[i]));
    nikkeiNotePoints.forEach(([m, v], i) => noteLabel(ctx, px(m) + NIKKEI_NOTE_OFFSETS[i][0], s.yNk.getPixelForValue(v) + NIKKEI_NOTE_OFFSETS[i][1], nikkeiNoteValues[i], nikkeiNoteDates[i]));
    const nkEnd = nikkeiSeries[nikkeiSeries.length - 1];
    noteLabel(ctx, px(nkEnd[0]) + NIKKEI_END_OFFSET[0], s.yNk.getPixelForValue(nkEnd[1]) + NIKKEI_END_OFFSET[1], nikkeiEndValue, nikkeiEndDate);

    // year marks on the time axis
    ctx.font = `14px ${NUM_FAMILY}`;
    ctx.textAlign = 'left';
    ctx.textBaseline = 'alphabetic';
    YEAR_LABELS.forEach((t, i) => ctx.fillText(t, px(YEAR_START_MONTHS[i]) + 7, s.x.top - 1));
    ctx.restore();
  },
};

const toXY = (arr: number[][]) => arr.map(([x, y]) => ({ x, y }));

export default function App() {
  const ref = useRef<HTMLCanvasElement | null>(null);
  useEffect(() => {
    document.body.style.margin = '0';
    document.body.style.overflow = 'hidden';
    const canvas = ref.current;
    if (!canvas) return;
    const lineBase = { type: 'line', pointRadius: 0, tension: 0, borderColor: INK, borderWidth: LINE_W, borderJoinStyle: 'round', order: 2, fill: false };
    const circleBase = { type: 'line', showLine: false, pointRadius: 6.5, pointBackgroundColor: '#fff', pointBorderColor: INK, pointBorderWidth: 1.7, order: 0 };
    const tickFont = { family: NUM_FAMILY, size: 21, weight: 'bold' };
    const yCommon = (ticks: number[], fmt: (v: number) => string, pos: string, weight: number, width: number, padding: number, show: boolean) => ({
      type: 'linear',
      position: pos,
      weight,
      afterBuildTicks: (axis: any) => { axis.ticks = ticks.map((v) => ({ value: v })); },
      afterFit: (axis: any) => { axis.width = width; },
      ticks: { display: show, autoSkip: false, font: tickFont, color: INK, padding, callback: (v: any) => fmt(Number(v)) },
      grid: { display: show, drawOnChartArea: false, drawTicks: true, tickLength: 7, color: INK, lineWidth: 1.6 },
      border: { display: false },
    });
    const chart = new Chart(canvas, {
      type: 'line',
      data: {
        datasets: [
          { ...lineBase, label: '無担O/N', data: toXY(onSeries), yAxisID: 'yRate' },
          { ...lineBase, label: 'ユーロ円3か月', data: toXY(euroyenSeries), yAxisID: 'yRate', borderWidth: 3.2, borderDash: [0.5, 6.5], borderCapStyle: 'round' },
          { ...lineBase, label: '国債', data: toXY(jgbSeries), yAxisID: 'yJgb' },
          { ...lineBase, label: '日経平均', data: toXY(nikkeiSeries), yAxisID: 'yNk' },
          { ...circleBase, label: 'rate marks', data: toXY(rateNotePoints), yAxisID: 'yRate' },
          { ...circleBase, label: 'jgb marks', data: toXY(jgbNotePoints), yAxisID: 'yJgb' },
          { ...circleBase, label: 'nikkei marks', data: toXY(nikkeiNotePoints), yAxisID: 'yNk' },
        ] as any,
      },
      options: {
        responsive: false,
        maintainAspectRatio: false,
        animation: false,
        devicePixelRatio: 1,
        events: [],
        layout: { padding: { top: PLOT_TOP, left: 0, right: 0, bottom: 0 } },
        plugins: { legend: { display: false }, tooltip: { enabled: false }, title: { display: false } },
        scales: {
          x: {
            type: 'linear',
            position: 'bottom',
            min: X_MIN,
            max: X_MAX,
            afterBuildTicks: (axis: any) => { axis.ticks = MONTH_LABELS.map((_, i) => ({ value: i })); },
            afterFit: (axis: any) => { axis.height = H - PLOT_BOTTOM; },
            ticks: { autoSkip: false, maxRotation: 0, minRotation: 0, labelOffset: MONTH_PX / 2, padding: 0, font: { family: NUM_FAMILY, size: 24 }, color: INK, callback: (_v: any, i: number) => MONTH_LABELS[i] },
            grid: { drawOnChartArea: false, drawTicks: false },
            border: { display: true, color: INK, width: 2 },
          },
          yNk: { ...yCommon(NIKKEI_TICKS, (v) => v.toLocaleString('en-US'), 'left', 2, PLOT_LEFT, 10, true), min: NK_RANGE.min, max: NK_RANGE.max },
          yRate: { ...yCommon(RATE_TICKS, (v) => v.toFixed(1), 'left', 1, 0, 3, false), min: RATE_RANGE.min, max: RATE_RANGE.max },
          yJgb: { ...yCommon(JGB_TICKS, (v) => v.toFixed(1), 'right', 1, W - PLOT_RIGHT, 9, true), min: JGB_RANGE.min, max: JGB_RANGE.max },
        } as any,
      },
      plugins: [decorations],
    } as any);
    return () => chart.destroy();
  }, []);
  return <canvas ref={ref} width={W} height={H} style={{ display: 'block' }} />;
}
